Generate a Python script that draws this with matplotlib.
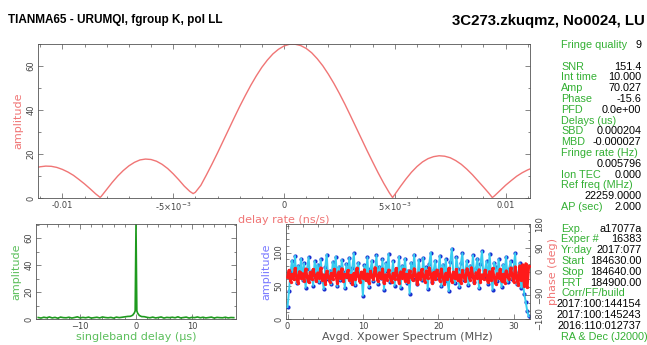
import numpy as np
import matplotlib
matplotlib.use("Agg")
import matplotlib.pyplot as plt
from matplotlib.ticker import MultipleLocator, FixedLocator, FixedFormatter

# delay rate search (top panel)
rate_delay = [-0.0111, -0.0110, -0.01075, -0.0105, -0.01025, -0.0100, -0.00975, -0.0095,
              -0.00925, -0.0090, -0.00875, -0.0085, -0.0083, -0.00825, -0.0080, -0.00775,
              -0.0075, -0.00725, -0.0070, -0.00675, -0.0065, -0.00625, -0.0060, -0.00575,
              -0.0055, -0.00525, -0.0050, -0.00475, -0.0045, -0.00425, -0.0041, -0.0040,
              -0.00375, -0.0035, -0.00325, -0.0030, -0.00275, -0.0025, -0.00225, -0.0020,
              -0.00175, -0.0015, -0.00125, -0.0010, -0.00075, -0.0005, -0.00025, 0.0,
              0.00025, 0.0005, 0.00075, 0.0010, 0.00125, 0.0015, 0.00175, 0.0020,
              0.00225, 0.0025, 0.00275, 0.0030, 0.00325, 0.0035, 0.00375, 0.0040,
              0.00425, 0.0045, 0.00475, 0.0049, 0.0050, 0.00525, 0.0055, 0.00575,
              0.0060, 0.00625, 0.0065, 0.00675, 0.0070, 0.00725, 0.0075, 0.00775,
              0.0080, 0.00825, 0.0085, 0.00875, 0.0090, 0.00925, 0.0094, 0.0095,
              0.00975, 0.0100, 0.01025, 0.0105, 0.01075, 0.0110, 0.0111]
rate_amp = [14.0, 14.2, 14.5, 14.4, 13.9, 13.0, 11.8, 10.3,
            8.4, 6.4, 4.2, 1.9, 0.3, 0.7, 3.9, 7.1,
            10.0, 12.5, 14.6, 16.2, 17.3, 17.7, 17.5, 16.7,
            15.3, 13.4, 11.0, 8.3, 5.4, 3.0, 2.0, 2.6,
            5.8, 10.5, 15.4, 20.5, 25.8, 31.1, 36.4, 41.6,
            46.5, 51.2, 55.5, 59.4, 62.7, 65.5, 67.6, 69.1,
            69.9, 69.9, 69.3, 68.0, 66.0, 63.3, 60.1, 56.3,
            52.1, 47.5, 42.6, 37.4, 32.1, 26.8, 21.5, 16.4,
            11.4, 6.7, 2.4, 0.2, 1.6, 5.2, 8.6, 11.7,
            14.3, 16.4, 17.9, 18.8, 19.2, 19.0, 18.3, 17.0,
            15.3, 13.1, 10.6, 7.8, 5.0, 2.1, 0.2, 1.0,
            3.4, 5.8, 7.9, 9.9, 11.5, 12.8, 13.2]

# singleband delay (bottom left)
sbd_delay = [-17.5, -17.0, -16.5, -16.0, -15.5, -15.0, -14.5, -14.0, -13.5, -13.0, -12.5,
             -12.0, -11.5, -11.0, -10.5, -10.0, -9.5, -9.0, -8.5, -8.0, -7.5, -7.0,
             -6.5, -6.0, -5.5, -5.0, -4.5, -4.0, -3.5, -3.0, -2.5, -2.0, -1.5,
             -1.0, -0.6, -0.3, -0.15, 0.0, 0.15, 0.3, 0.6, 1.0,
             1.5, 2.0, 2.5, 3.0, 3.5, 4.0, 4.5, 5.0, 5.5, 6.0, 6.5,
             7.0, 7.5, 8.0, 8.5, 9.0, 9.5, 10.0, 10.5, 11.0, 11.5, 12.0,
             12.5, 13.0, 13.5, 14.0, 14.5, 15.0, 15.5, 16.0, 16.5, 17.0, 17.5]
sbd_amp = [1.1, 0.7, 1.3, 0.9, 1.5, 0.8, 1.2, 0.6, 1.4, 1.0, 0.9,
           1.3, 0.7, 1.1, 1.6, 0.8, 1.2, 0.9, 1.4, 0.7, 1.0, 1.3,
           0.8, 1.5, 1.1, 0.9, 1.2, 0.7, 1.4, 1.0, 1.3, 1.6, 1.9,
           2.0, 2.8, 4.5, 6.0, 70.0, 6.0, 4.3, 2.6, 1.8,
           1.7, 1.2, 0.9, 1.4, 0.8, 1.1, 1.5, 0.7, 1.2, 1.0, 1.3,
           0.9, 1.6, 0.8, 1.1, 1.4, 0.7, 1.2, 1.0, 1.5, 0.9, 1.3,
           0.8, 1.1, 1.4, 0.7, 1.2, 1.0, 0.9, 1.3, 0.8, 1.1, 1.0]

# averaged cross-power spectrum (bottom right), 0.2 MHz channels over 0..32 MHz
xp_amp = [18, 42, 71, 88, 62, 95, 54, 80, 66, 91,
          58, 84, 47, 76, 93, 61, 72, 50, 87, 69,
          82, 55, 90, 64, 45, 78, 97, 60, 73, 52,
          86, 67, 94, 49, 79, 58, 89, 71, 46, 83,
          63, 92, 56, 77, 99, 51, 74, 85, 59, 68,
          35, 81, 66, 93, 48, 75, 88, 57, 70, 96,
          53, 79, 61, 90, 44, 84, 72, 98, 56, 65,
          87, 50, 76, 62, 94, 47, 80, 69, 91, 54,
          73, 38, 85, 60, 97, 66, 52, 89, 71, 58,
          92, 64, 78, 45, 83, 100, 55, 74, 88, 61,
          70, 95, 49, 82, 63, 90, 57, 42, 86, 106,
          67, 54, 93, 76, 48, 84, 99, 59, 72, 88,
          51, 80, 65, 96, 56, 77, 91, 46, 83, 102,
          62, 74, 87, 53, 98, 68, 44, 85, 79, 57,
          90, 66, 48, 82, 71, 94, 55, 76, 87, 60,
          78, 99, 52, 69, 84, 47, 58, 38, 26, 12,
          4]
xp_phase = [-22, 5, -38, -10, -30, 12, -18, -44, 0, -26,
            -8, -35, 10, -20, -41, -3, -28, 8, -16, -37,
            -5, -24, 14, -33, -12, -46, 2, -19, -39, -7,
            -29, 9, -15, -42, -1, -25, 11, -36, -11, -21,
            4, -32, -14, -48, -6, -27, 13, -17, -40, -2,
            -23, 7, -34, -9, -43, 1, -19, -30, 15, -13,
            -37, -4, -26, 10, -45, -12, -31, 6, -20, -39,
            -7, -28, 12, -16, -44, -1, -24, 9, -35, -10,
            -41, 3, -21, -33, 11, -14, -47, -5, -27, 8,
            -18, -38, 2, -25, 14, -11, -42, -3, -30, 6,
            -15, -36, 10, -22, -46, -6, -29, 13, -17, -40,
            -2, -26, 8, -34, -13, -43, 4, -20, -37, 11,
            -9, -31, 15, -19, -45, -4, -24, 7, -38, -12,
            -28, 5, -16, -41, 0, -33, 12, -22, -47, -8,
            -25, 9, -36, -11, -43, 3, -19, -30, 14, -14,
            -39, 18, -27, -50, 22, -33, 26, -55, 30, -60,
            20]
xp_freq = np.linspace(0, 32, len(xp_amp))

# summary column on the right: (row, label, value)
summary = [
    (0, "Fringe quality", "9"),
    (2, "SNR", "151.4"), (3, "Int time", "10.000"), (4, "Amp", "70.027"),
    (5, "Phase", "-15.6"), (6, "PFD", "0.0e+00"), (7, "Delays (us)", ""),
    (8, "SBD", "0.000204"), (9, "MBD", "-0.000027"), (10, "Fringe rate (Hz)", ""),
    (11, "", "0.005796"), (12, "Ion TEC", "0.000"), (13, "Ref freq (MHz)", ""),
    (14, "", "22259.0000"), (15, "AP (sec)", "2.000"),
    (17, "Exp.", "a17077a"), (18, "Exper #", "16383"), (19, "Yr:day", "2017:077"),
    (20, "Start", "184630.00"), (21, "Stop", "184640.00"), (22, "FRT", "184900.00"),
    (23, "Corr/FF/build", ""), (24, "", "2017:100:144154"),
    (25, "", "2017:100:145243"), (26, "", "2016:110:012737"),
    (27, "RA & Dec (J2000)", ""),
]

W, H = 647, 345
GREEN = "#33b033"
PINK = "#f07575"
FRAME = "#555555"
TICK = "#444444"


def px_axes(fig, x0, y0, x1, y1):
    # axes from pixel box (top-left origin)
    return fig.add_axes([x0 / W, 1 - y1 / H, (x1 - x0) / W, (y1 - y0) / H])


def style(ax, right_ticks=True):
    for s in ax.spines.values():
        s.set_color(FRAME)
        s.set_linewidth(0.6)
    ax.tick_params(which="both", direction="in", top=True, right=right_ticks,
                   colors=FRAME, labelcolor=TICK, labelsize=6, width=0.5, pad=2)
    ax.tick_params(which="major", length=3.5)
    ax.tick_params(which="minor", length=1.8)
    for lab in ax.get_yticklabels():
        lab.set_rotation(90)
        lab.set_va("center")


fig = plt.figure(figsize=(W / 100, H / 100), dpi=100)
fig.patch.set_facecolor("white")

fig.text(8 / W, 1 - 20 / H, "TIANMA65 - URUMQI, fgroup K, pol LL", fontsize=8.5,
         fontweight="bold", family="Liberation Sans", va="center", ha="left")
fig.text(645 / W, 1 - 21 / H, "3C273.zkuqmz, No0024, LU", fontsize=10.8,
         fontweight="bold", family="Liberation Sans", va="center", ha="right")

# top: delay rate
ax = px_axes(fig, 38, 44, 530, 198)
ax.plot(rate_delay, rate_amp, color=PINK, lw=1.0)
ax.set_xlim(-0.0111, 0.0111)
ax.set_ylim(0, 70)
ax.xaxis.set_major_locator(FixedLocator([-0.01, -0.005, 0, 0.005, 0.01]))
ax.xaxis.set_major_formatter(FixedFormatter(["-0.01", r"-5$\times$10$^{-3}$", "0",
                                             r"5$\times$10$^{-3}$", "0.01"]))
ax.xaxis.set_minor_locator(MultipleLocator(0.001))
ax.yaxis.set_major_locator(MultipleLocator(20))
ax.yaxis.set_minor_locator(MultipleLocator(10))
style(ax)
ax.set_xlabel("delay rate (ns/s)", color=PINK, fontsize=8, labelpad=1)
ax.set_ylabel("amplitude", color=PINK, fontsize=8, labelpad=2)

# bottom left: singleband delay
ax = px_axes(fig, 36, 224, 236, 319)
ax.plot(sbd_delay, sbd_amp, color="#1e9a1e", lw=1.2)
ax.set_xlim(-17.9, 17.9)
ax.set_ylim(0, 70.5)
ax.xaxis.set_major_locator(MultipleLocator(10))
ax.xaxis.set_minor_locator(MultipleLocator(2))
ax.yaxis.set_major_locator(MultipleLocator(20))
ax.yaxis.set_minor_locator(MultipleLocator(10))
style(ax)
ax.set_xlabel("singleband delay (\u03bcs)", color="#5cbf5c", fontsize=8, labelpad=1)
ax.set_ylabel("amplitude", color="#5cbf5c", fontsize=8, labelpad=2)

# bottom right: cross-power spectrum
ax = px_axes(fig, 286, 224, 529.5, 319)
ax.plot(xp_freq, xp_amp, "o", color="#1a2fd0", ms=3.0, mew=0, zorder=2)
ax.plot(xp_freq, xp_amp, color="#38cdf0", lw=1.4, zorder=3)
ax.set_xlim(-0.2, 32.1)
ax.set_ylim(0, 143)
ax.xaxis.set_major_locator(MultipleLocator(10))
ax.xaxis.set_minor_locator(MultipleLocator(2))
ax.yaxis.set_major_locator(MultipleLocator(50))
ax.yaxis.set_minor_locator(MultipleLocator(10))
style(ax, right_ticks=False)
ax.set_xlabel("Avgd. Xpower Spectrum (MHz)", color="#555555", fontsize=8, labelpad=1)
ax.set_ylabel("amplitude", color="#7878ff", fontsize=8, labelpad=2)

ax2 = ax.twinx()
ax2.plot(xp_freq, xp_phase, color="#ff1a1a", lw=2.0, marker="o", ms=2.4, mew=0)
ax2.set_ylim(-180, 180)
ax2.yaxis.set_major_locator(MultipleLocator(90))
ax2.yaxis.set_minor_locator(MultipleLocator(30))
for s in ax2.spines.values():
    s.set_visible(False)
ax2.tick_params(which="both", direction="in", colors=FRAME, labelcolor=TICK,
                labelsize=6, width=0.5, pad=4)
ax2.tick_params(which="major", length=3.5)
ax2.tick_params(which="minor", length=1.8)
for lab in ax2.get_yticklabels():
    lab.set_rotation(90)
    lab.set_va("center")
ax2.set_ylabel("phase (deg)", color=PINK, fontsize=8, labelpad=3)

# summary text column
for row, label, value in summary:
    y = 1 - (45 + 10.8 * row) / H
    if label:
        fig.text(561 / W, y, label, color=GREEN, fontsize=7.8, family="Liberation Sans",
                 va="center", ha="left")
    if value:
        fig.text(641.5 / W, y, value, color="black", fontsize=7.8,
                 family="Liberation Sans", va="center", ha="right")

fig.savefig("out.png", dpi=100)
